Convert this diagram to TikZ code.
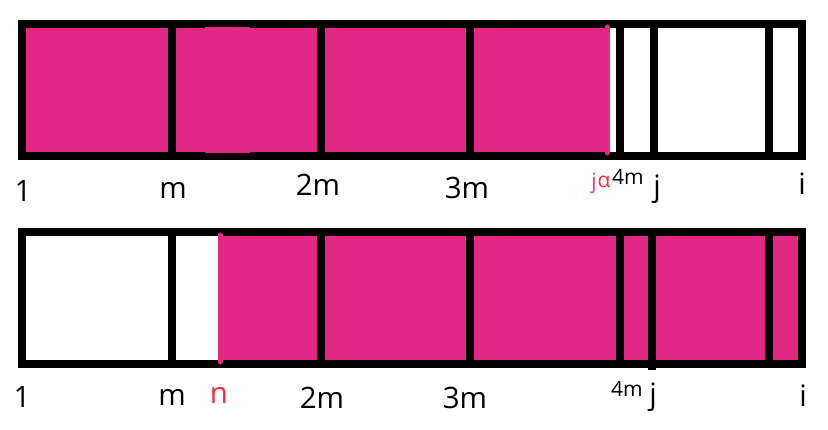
\documentclass[tikz,border=0pt]{standalone}
\usepackage{fontspec}
\setmainfont{Open Sans}
\definecolor{barpink}{RGB}{226,40,132}
\definecolor{lblred}{RGB}{240,48,64}
\definecolor{lblpink}{RGB}{232,64,122}
\tikzset{
  frame/.style={draw=black,line width=8pt},
  divider/.style={draw=black,line width=8pt},
  edgemark/.style={draw=barpink,line width=5pt,line cap=round},
  lbl/.style={anchor=base,inner sep=0pt,font=\fontsize{29.5}{30}\selectfont},
  small/.style={anchor=base,inner sep=0pt,font=\fontsize{21}{21}\selectfont}
}
\begin{document}
\begin{tikzpicture}[x=1pt,y=-1pt]
\useasboundingbox[fill=white] (0,0) rectangle (828,430);
% ---------- top bar ----------
\fill[barpink] (22,24) rectangle (607,156);
\draw[frame] (22,24) rectangle (802,156);
\foreach \x in {172,321,470,620,654,769}
  \draw[divider] (\x,24) -- (\x,156);
\fill[barpink] (205,27.2) rectangle (250,152.8);
\draw[edgemark] (607,27) -- (607,153);
% labels top
\node[lbl] (t1) at (23,202) {1};
\node[lbl] (tm) at (173,199) {m};
\node[lbl] (t2m) at (318,196) {2m};
\node[lbl] (t3m) at (467,199) {3m};
\node[small,text=lblpink] (tjr) at (594,189) {j};
\node[small,text=lblred] (ta) at (604,188) {α};
\node[small] (t4m) at (628,185) {4m};
\node[lbl] (tj) at (657,197) {j};
\node[lbl] (ti) at (802,195) {i};
% ---------- bottom bar ----------
\fill[barpink] (220,232) rectangle (802,364);
\draw[frame] (22,232) rectangle (802,364);
\foreach \x in {172,321,470,620,769}
  \draw[divider] (\x,232) -- (\x,364);
\draw[divider] (652,232) -- (652,370);
\draw[edgemark] (220,235) -- (220,362);
% labels bottom
\node[lbl] (b1) at (22,408) {1};
\node[lbl] (bm) at (172,406) {m};
\node[lbl,text=lblred] (bn) at (219,404) {n};
\node[lbl] (b2m) at (322,409) {2m};
\node[lbl] (b3m) at (465,409) {3m};
\node[small] (b4m) at (627,397) {4m};
\node[lbl] (bj) at (653,405) {j};
\node[lbl] (bi) at (803,407) {i};
\end{tikzpicture}
\end{document}
